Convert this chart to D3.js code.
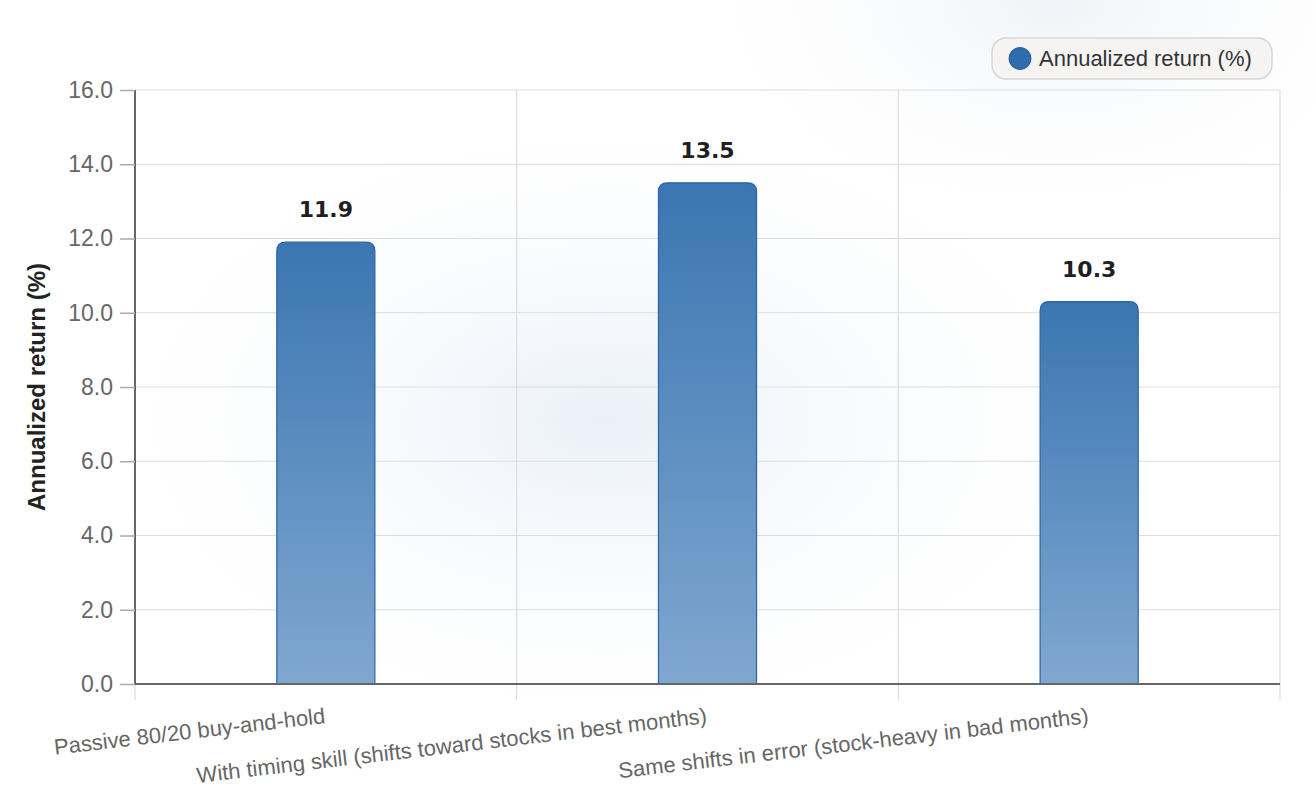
<!DOCTYPE html>
<html lang="en">
<head>
    <meta charset="utf-8">
    <script src="https://cdn.jsdelivr.net/npm/d3@7"></script>
    <style type="text/css">
        body { margin: 0; background: #ffffff; }
        svg { display: block; font-family: "Liberation Sans", Arial, sans-serif; }
    </style>
</head>
<body>
    <script>
        // data
        let categories = [
            "Passive 80/20 buy-and-hold",
            "With timing skill (shifts toward stocks in best months)",
            "Same shifts in error (stock-heavy in bad months)"
        ];
        let returns = [11.9, 13.5, 10.3];
        let yTicks = [0, 2, 4, 6, 8, 10, 12, 14, 16];
        let seriesName = "Annualized return (%)";

        let w = 1316;
        let h = 808;
        let plotL = 135, plotR = 1280, plotT = 90, plotB = 684;

        let svg = d3.select("body")
                    .append("svg")
                    .attr("width", w)
                    .attr("height", h);

        let defs = svg.append("defs");

        let glow = defs.append("radialGradient")
                    .attr("id", "glow")
                    .attr("cx", 0.46).attr("cy", 0.52).attr("r", 0.42);
        glow.append("stop").attr("offset", "0%").attr("stop-color", "#e6edf7").attr("stop-opacity", 0.85);
        glow.append("stop").attr("offset", "100%").attr("stop-color", "#ffffff").attr("stop-opacity", 0);

        let glow2 = defs.append("radialGradient")
                    .attr("id", "glow2")
                    .attr("cx", 0.8).attr("cy", 0).attr("r", 0.3);
        glow2.append("stop").attr("offset", "0%").attr("stop-color", "#eef1f6").attr("stop-opacity", 0.9);
        glow2.append("stop").attr("offset", "100%").attr("stop-color", "#ffffff").attr("stop-opacity", 0);

        let barGrad = defs.append("linearGradient")
                    .attr("id", "barGrad")
                    .attr("x1", 0).attr("y1", 0).attr("x2", 0).attr("y2", 1);
        barGrad.append("stop").attr("offset", "0%").attr("stop-color", "#3a76b1");
        barGrad.append("stop").attr("offset", "100%").attr("stop-color", "#80a7d0");

        svg.append("rect").attr("width", w).attr("height", h).attr("fill", "#ffffff");
        svg.append("rect").attr("width", w).attr("height", h).attr("fill", "url(#glow)");
        svg.append("rect").attr("width", w).attr("height", h).attr("fill", "url(#glow2)");

        let xScale = d3.scaleBand()
                        .domain(categories)
                        .range([plotL, plotR])
                        .padding(0);

        let yScale = d3.scaleLinear()
                        .domain([0, 16])
                        .range([plotB, plotT]);

        // horizontal grid
        svg.append("g")
            .selectAll("line")
            .data(yTicks)
            .enter()
            .append("line")
            .attr("x1", plotL)
            .attr("x2", plotR)
            .attr("y1", (d) => yScale(d))
            .attr("y2", (d) => yScale(d))
            .attr("stroke", "#dddddd")
            .attr("stroke-width", 1.2);

        // vertical grid at category boundaries
        let bounds = categories.map((c) => xScale(c)).concat([plotR]);
        svg.append("g")
            .selectAll("line")
            .data(bounds)
            .enter()
            .append("line")
            .attr("x1", (d) => d)
            .attr("x2", (d) => d)
            .attr("y1", plotT)
            .attr("y2", plotB + 16)
            .attr("stroke", "#dddddd")
            .attr("stroke-width", 1.2);

        // bars
        let barW = xScale.bandwidth() * 0.257;
        let r = 9;
        svg.append("g")
            .selectAll("path")
            .data(categories)
            .enter()
            .append("path")
            .attr("d", (d, i) => {
                let cx = xScale(d) + xScale.bandwidth() / 2;
                let x0 = cx - barW / 2, x1 = cx + barW / 2;
                let y0 = yScale(returns[i]), y1 = yScale(0);
                return "M" + x0 + "," + y1 +
                       "V" + (y0 + r) +
                       "Q" + x0 + "," + y0 + " " + (x0 + r) + "," + y0 +
                       "H" + (x1 - r) +
                       "Q" + x1 + "," + y0 + " " + x1 + "," + (y0 + r) +
                       "V" + y1 + "Z";
            })
            .attr("fill", "url(#barGrad)")
            .attr("stroke", "#2c63a6")
            .attr("stroke-width", 1.2);

        // value labels
        svg.append("g")
            .selectAll("text")
            .data(categories)
            .enter()
            .append("text")
            .attr("x", (d) => xScale(d) + xScale.bandwidth() / 2)
            .attr("y", (d, i) => yScale(returns[i]) - 25)
            .attr("text-anchor", "middle")
            .attr("font-family", "DejaVu Sans, sans-serif")
            .attr("font-weight", "bold")
            .attr("font-size", "22px")
            .attr("fill", "#1f1f1f")
            .text((d, i) => returns[i].toFixed(1));

        // y axis
        let yAxis = d3.axisLeft(yScale)
                    .tickValues(yTicks)
                    .tickSize(15)
                    .tickPadding(7)
                    .tickFormat(d3.format(".1f"));
        let gy = svg.append("g")
            .attr("transform", "translate(" + plotL + ",0)")
            .call(yAxis);
        gy.select(".domain").attr("stroke", "#666666").attr("stroke-width", 2).attr("d", "M0," + plotT + "V" + plotB);
        gy.selectAll(".tick line").attr("stroke", "#aaaaaa").attr("stroke-width", 1.5);
        gy.selectAll(".tick text")
            .attr("fill", "#666666")
            .attr("font-size", "23px")
            .attr("font-family", "Liberation Sans, Arial, sans-serif");

        // x axis
        let gx = svg.append("g")
            .attr("transform", "translate(0," + plotB + ")");
        gx.append("line")
            .attr("x1", plotL)
            .attr("x2", plotR)
            .attr("stroke", "#666666")
            .attr("stroke-width", 2);
        gx.selectAll("text")
            .data(categories)
            .enter()
            .append("text")
            .attr("transform", (d) => "translate(" + (xScale(d) + xScale.bandwidth() / 2) + ",39) rotate(-6.7)")
            .attr("text-anchor", "end")
            .attr("fill", "#666666")
            .attr("font-size", "22px")
            .text((d) => d);

        // y title
        svg.append("text")
            .attr("transform", "translate(45," + ((plotT + plotB) / 2) + ") rotate(-90)")
            .attr("text-anchor", "middle")
            .attr("font-weight", "bold")
            .attr("font-size", "24px")
            .attr("fill", "#222222")
            .text("Annualized return (%)");

        // legend
        let lg = svg.append("g").attr("transform", "translate(992,38)");
        lg.append("rect")
            .attr("width", 280)
            .attr("height", 41)
            .attr("rx", 14)
            .attr("fill", "#f5f4f3")
            .attr("stroke", "#d6d6d6")
            .attr("stroke-width", 1.5);
        lg.append("circle")
            .attr("cx", 28)
            .attr("cy", 20.5)
            .attr("r", 11)
            .attr("fill", "#2e6cad")
            .attr("stroke", "#2560a3")
            .attr("stroke-width", 1);
        lg.append("text")
            .attr("x", 47)
            .attr("y", 28)
            .attr("font-size", "22px")
            .attr("fill", "#333333")
            .text(seriesName);
    </script>
</body>
</html>
